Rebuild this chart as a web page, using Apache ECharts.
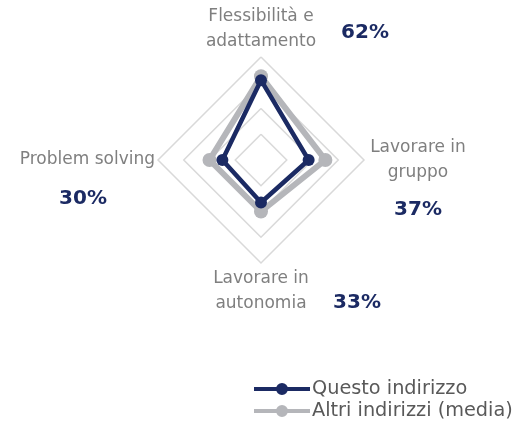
<!DOCTYPE html>
<html><head><meta charset="utf-8">
<script src="https://cdn.jsdelivr.net/npm/echarts@6/dist/echarts.min.js"></script>
<style>html,body{margin:0;padding:0;background:#fff}#c{width:516px;height:428px}</style>
</head><body><div id="c"></div>
<script>
// indicators in ECharts order (counter-clockwise from top)
const categories = ['Flessibilità e\nadattamento', 'Problem solving', 'Lavorare in\nautonomia', 'Lavorare in\ngruppo'];
const seriesNames = ['Questo indirizzo', 'Altri indirizzi (media)'];
const questoValues = [0.62, 0.30, 0.33, 0.37];
const altriValues = [0.65, 0.40, 0.40, 0.50];
const axisMax = 0.8;

const navy = '#1b2a63', grey = '#b5b6ba';
const font = 'DejaVu Sans';
const chart = echarts.init(document.getElementById('c'));

function fmt(v){ return Math.round(v*100) + '%'; }
const pctPos = [[365,33],[83,199],[357,303],[418,210]];
const legendPath = 'path://M0 4 L56 4 L56 8 L0 8 Z M22 6 A6 6 0 1 1 34 6 A6 6 0 1 1 22 6 Z';

chart.setOption({
  backgroundColor:'#fff',
  animation:false,
  radar:{
    center:[261,160], radius:103, startAngle:90, splitNumber:4, shape:'polygon',
    nameGap:3,
    indicator: categories.map(n=>({name:n, min:0, max:axisMax})),
    axisName:{
      color:'#7f7f7f', fontFamily:font, fontSize:17, lineHeight:25,
      formatter:(name)=> name.indexOf('\n')<0 ? '{b|'+name+'}' : name.split('\n').map(s=>'{a|'+s+'}').join('\n'),
      rich:{
        a:{width:102, align:'center', color:'#7f7f7f', fontFamily:font, fontSize:17, lineHeight:25},
        b:{color:'#7f7f7f', fontFamily:font, fontSize:17, lineHeight:25}
      }
    },
    axisLine:{show:false}, axisTick:{show:false}, axisLabel:{show:false},
    splitArea:{show:false},
    splitLine:{lineStyle:{color:'#d9d9d9', width:1.5}}
  },
  legend:{
    orient:'vertical', left:254, top:379, padding:0, itemWidth:56, itemHeight:12, itemGap:2,
    data:[{name:seriesNames[0], icon:legendPath},{name:seriesNames[1], icon:legendPath}],
    textStyle:{color:'#595959', fontFamily:font, fontSize:19.3, lineHeight:20, padding:[0,0,0,-3]}
  },
  graphic: questoValues.map((v,i)=>({
    type:'text', x:pctPos[i][0], y:pctPos[i][1],
    style:{text:fmt(v), fill:navy, font:'bold 20px "'+font+'"', textAlign:'center', textVerticalAlign:'middle'}
  })),
  series:[
    {type:'radar', name:seriesNames[1], z:2, symbol:'circle', symbolSize:14,
     itemStyle:{color:grey}, lineStyle:{color:grey, width:6},
     data:[{value:altriValues, name:seriesNames[1]}]},
    {type:'radar', name:seriesNames[0], z:3, symbol:'circle', symbolSize:12,
     itemStyle:{color:navy}, lineStyle:{color:navy, width:4.5},
     data:[{value:questoValues, name:seriesNames[0]}]}
  ]
});
</script></body></html>
